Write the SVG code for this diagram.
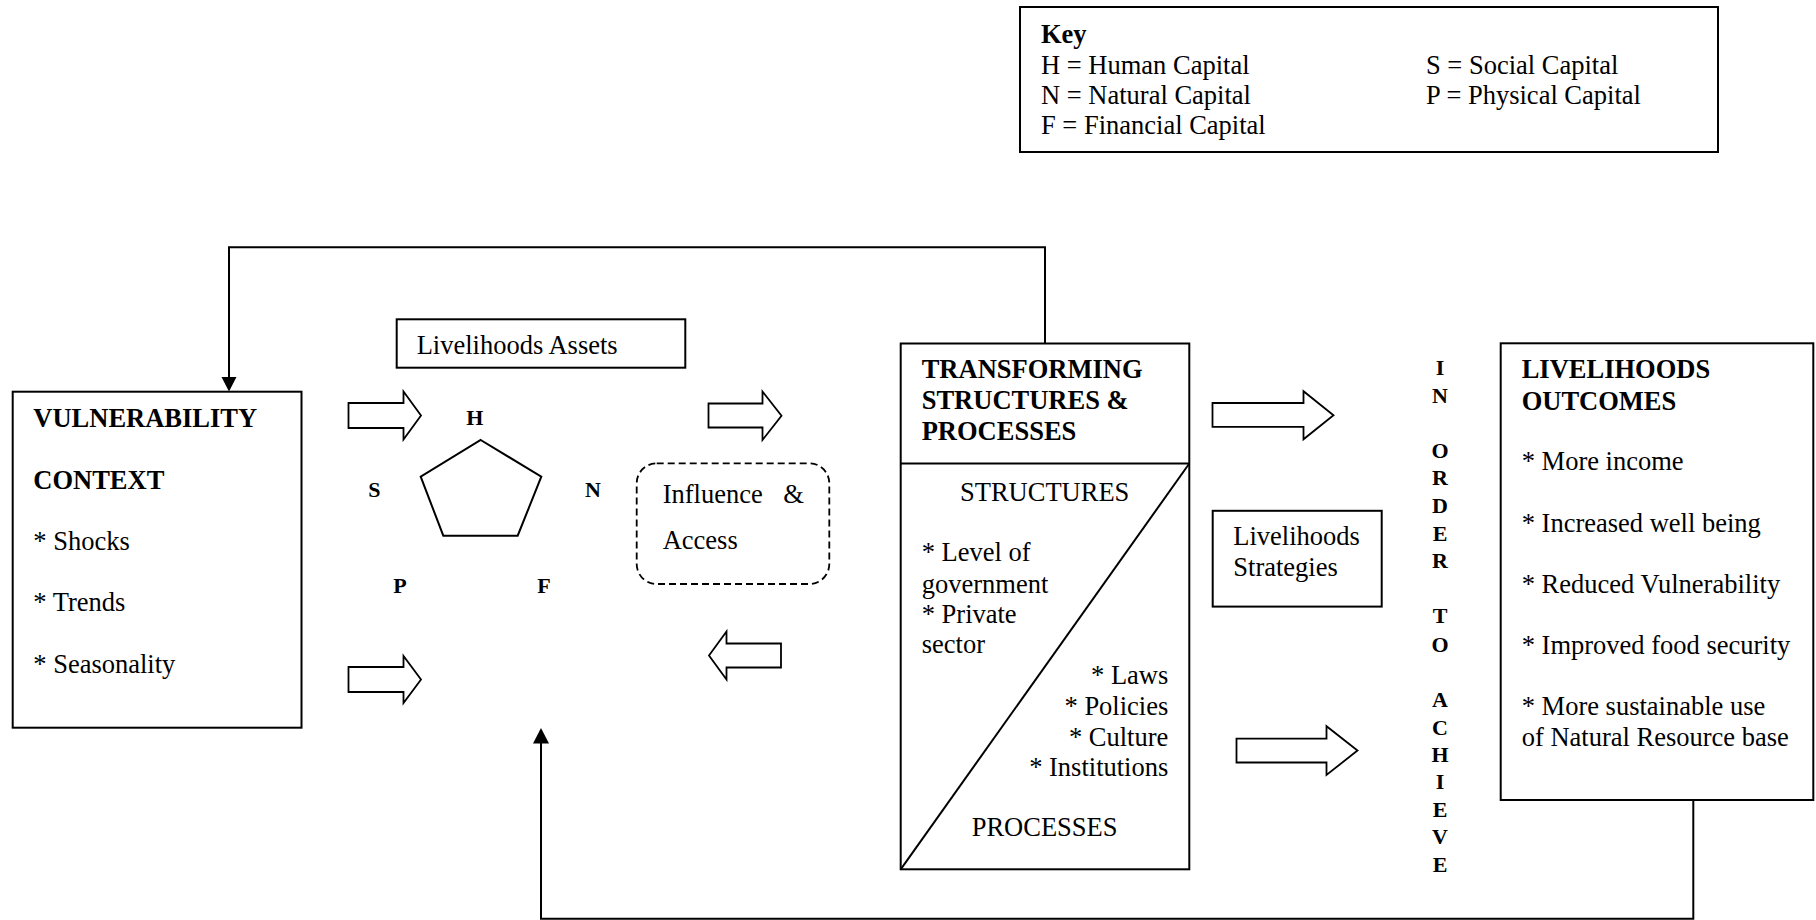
<svg xmlns="http://www.w3.org/2000/svg" width="1816" height="920" viewBox="0 0 1816 920">
<defs>
<style>
.t{font-family:"Liberation Serif","Times New Roman",serif;font-size:26.5px;fill:#000}
.b{font-weight:bold}
.l{font-family:"Liberation Serif","Times New Roman",serif;font-size:22px;font-weight:bold;fill:#000}
.box{fill:#fff;stroke:#000;stroke-width:2}
.blk{fill:#fff;stroke:#000;stroke-width:1.8;stroke-linejoin:miter}
.con{fill:none;stroke:#000;stroke-width:2}
.head{fill:#000;stroke:none}
</style>
</defs>
<rect width="1816" height="920" fill="#fff"/>

<g id="key">
<rect class="box" x="1020" y="7" width="698" height="145"/>
<text class="t b" x="1041" y="43">Key</text>
<text class="t" x="1041" y="74">H = Human Capital</text>
<text class="t" x="1041" y="104">N = Natural Capital</text>
<text class="t" x="1041" y="134">F = Financial Capital</text>
<text class="t" x="1426" y="74">S = Social Capital</text>
<text class="t" x="1426" y="104">P = Physical Capital</text>
</g>

<g id="connectors">
<path class="con" d="M1045,343.5 V247.3 H229 V378"/>
<polygon class="head" points="221.5,377 236.5,377 229,391.5"/>
<path class="con" d="M1693.3,799.3 V918.8 H541 V742"/>
<polygon class="head" points="533,743.5 549,743.5 541,728"/>
</g>

<g id="vulnerability">
<rect class="box" x="12.7" y="391.7" width="288.8" height="336"/>
<text class="t b" x="33.3" y="427">VULNERABILITY</text>
<text class="t b" x="33.3" y="489">CONTEXT</text>
<text class="t" x="33.3" y="550">* Shocks</text>
<text class="t" x="33.3" y="611">* Trends</text>
<text class="t" x="33.3" y="673">* Seasonality</text>
</g>

<g id="arrows">
<polygon class="blk" points="348.5,403 403.5,403 403.5,391.5 421,415.5 403.5,439.5 403.5,428 348.5,428"/>
<polygon class="blk" points="348.5,667 403.5,667 403.5,656 421,679.5 403.5,703 403.5,692 348.5,692"/>
<polygon class="blk" points="708.5,403.5 762.5,403.5 762.5,391.5 781.5,415.7 762.5,440 762.5,427.5 708.5,427.5"/>
<polygon class="blk" points="709,655.5 726.5,631.5 726.5,643.5 781,643.5 781,667.5 726.5,667.5 726.5,679.5"/>
<polygon class="blk" points="1212.5,403 1303.5,403 1303.5,391.2 1333.5,415.3 1303.5,439.3 1303.5,426.8 1212.5,426.8"/>
<polygon class="blk" points="1236.5,738.7 1326.5,738.7 1326.5,726.2 1357.5,750.5 1326.5,775 1326.5,762.5 1236.5,762.5"/>
</g>

<g id="assets">
<rect class="box" x="396.7" y="319.3" width="288.6" height="48.4"/>
<text class="t" x="416.7" y="354.3">Livelihoods Assets</text>
<polygon class="box" points="480.7,440 541.3,476.7 517.7,535.7 443.3,535.7 420.7,476.7"/>
<text class="l" x="474.7" y="425" text-anchor="middle">H</text>
<text class="l" x="368.3" y="496.7">S</text>
<text class="l" x="585" y="496.7">N</text>
<text class="l" x="393.3" y="593.3">P</text>
<text class="l" x="537.3" y="593.3">F</text>
</g>

<g id="influence">
<rect x="636.7" y="463.3" width="192.6" height="120.7" rx="20" fill="#fff" stroke="#000" stroke-width="1.8" stroke-dasharray="7 4"/>
<text class="t" x="662.7" y="503.3">Influence</text>
<text class="t" x="783.3" y="503.3">&amp;</text>
<text class="t" x="662.7" y="549.3">Access</text>
</g>

<g id="transforming">
<rect class="box" x="900.7" y="343.5" width="288.6" height="525.8"/>
<line class="con" x1="900.7" y1="463.5" x2="1189.3" y2="463.5"/>
<line class="con" x1="900.7" y1="869.3" x2="1189.3" y2="463.5"/>
<text class="t b" x="921.7" y="378.1">TRANSFORMING</text>
<text class="t b" x="921.7" y="409">STRUCTURES &amp;</text>
<text class="t b" x="921.7" y="439.6">PROCESSES</text>
<text class="t" x="960" y="500.9">STRUCTURES</text>
<text class="t" x="921.7" y="561.4">* Level of</text>
<text class="t" x="921.7" y="592.7">government</text>
<text class="t" x="921.7" y="622.6">* Private</text>
<text class="t" x="921.7" y="653.2">sector</text>
<text class="t" x="1168.3" y="684.2" text-anchor="end">* Laws</text>
<text class="t" x="1168.3" y="714.5" text-anchor="end">* Policies</text>
<text class="t" x="1168.3" y="745.5" text-anchor="end">* Culture</text>
<text class="t" x="1168.3" y="775.7" text-anchor="end">* Institutions</text>
<text class="t" x="971.7" y="836.2">PROCESSES</text>
</g>

<g id="strategies">
<rect class="box" x="1212.7" y="510.8" width="169" height="95.8"/>
<text class="t" x="1233.3" y="545.4">Livelihoods</text>
<text class="t" x="1233.3" y="575.6">Strategies</text>
</g>

<g id="in-order-to-achieve">
<text class="l" x="1440" y="375" text-anchor="middle">I</text>
<text class="l" x="1440" y="402.7" text-anchor="middle">N</text>
<text class="l" x="1440" y="458.3" text-anchor="middle">O</text>
<text class="l" x="1440" y="485" text-anchor="middle">R</text>
<text class="l" x="1440" y="513.3" text-anchor="middle">D</text>
<text class="l" x="1440" y="540.7" text-anchor="middle">E</text>
<text class="l" x="1440" y="568.3" text-anchor="middle">R</text>
<text class="l" x="1440" y="623.3" text-anchor="middle">T</text>
<text class="l" x="1440" y="651.7" text-anchor="middle">O</text>
<text class="l" x="1440" y="706.7" text-anchor="middle">A</text>
<text class="l" x="1440" y="735" text-anchor="middle">C</text>
<text class="l" x="1440" y="761.7" text-anchor="middle">H</text>
<text class="l" x="1440" y="789.3" text-anchor="middle">I</text>
<text class="l" x="1440" y="817.3" text-anchor="middle">E</text>
<text class="l" x="1440" y="844" text-anchor="middle">V</text>
<text class="l" x="1440" y="871.7" text-anchor="middle">E</text>
</g>

<g id="outcomes">
<rect class="box" x="1500.7" y="343.3" width="312.6" height="456.7"/>
<text class="t b" x="1521.7" y="378.3">LIVELIHOODS</text>
<text class="t b" x="1521.7" y="410">OUTCOMES</text>
<text class="t" x="1521.7" y="470">* More income</text>
<text class="t" x="1521.7" y="531.7">* Increased well being</text>
<text class="t" x="1521.7" y="593.3">* Reduced Vulnerability</text>
<text class="t" x="1521.7" y="654">* Improved food security</text>
<text class="t" x="1521.7" y="715">* More sustainable use</text>
<text class="t" x="1521.7" y="746">of Natural Resource base</text>
</g>
</svg>
